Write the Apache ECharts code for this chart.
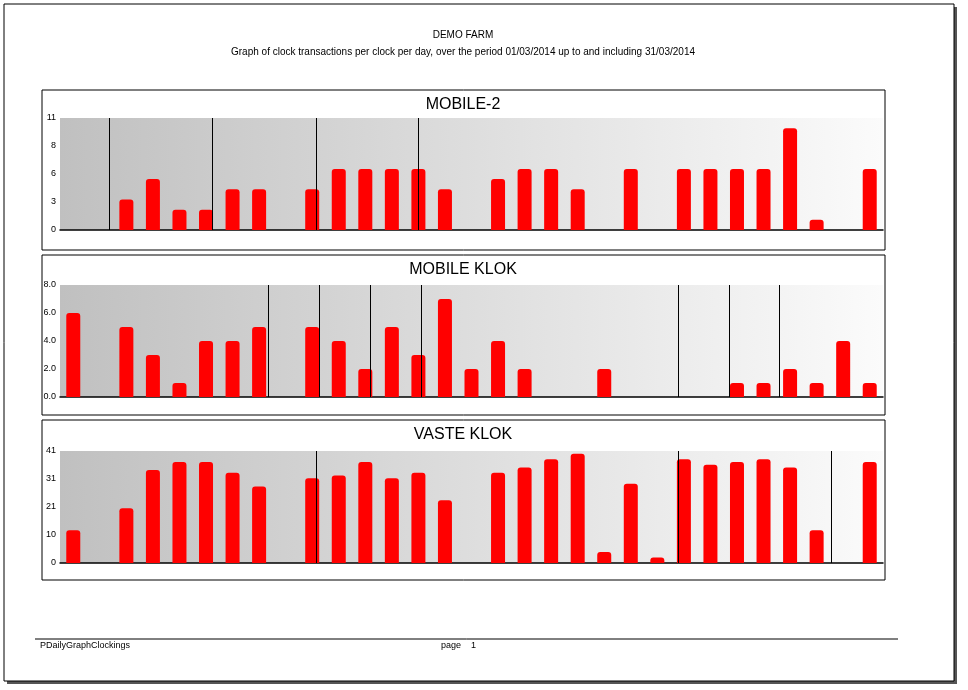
<!DOCTYPE html>
<html>
<head>
<meta charset="UTF-8">
<title>DEMO FARM</title>
<script src="https://cdn.jsdelivr.net/npm/echarts@6/dist/echarts.min.js"></script>
<style>body{margin:0;background:#fff}#main{width:968px;height:690px}</style>
</head>
<body>
<div id="main"></div>
<script type="text/javascript">
var days = [];
for (var i = 1; i <= 31; i++) days.push(i);

var mobile2 = [0,0,3,5,2,2,4,4,0,4,6,6,6,6,4,0,5,6,6,4,0,6,0,6,6,6,6,10,1,0,6];
var mobileKlok = [6,0,5,3,1,4,4,5,0,5,4,2,5,3,7,2,4,2,0,0,2,0,0,0,0,1,1,2,1,4,1];
var vasteKlok = [12,0,20,34,37,37,33,28,0,31,32,37,31,33,23,0,33,35,38,40,4,29,2,38,36,37,38,35,12,0,37];

var titles = ['MOBILE-2', 'MOBILE KLOK', 'VASTE KLOK'];
var yMax = [11, 8, 41];
var yStep = [2.75, 2, 10.25];
var markers = [[2.35, 6.24, 10.16, 14.0], [8.35, 10.27, 12.2, 14.1, 23.8, 25.7, 27.6], [10.16, 23.8, 29.55]];
var seriesData = [mobile2, mobileKlok, vasteKlok];

var gridTops = [118, 285, 451];
var boxTops = [90, 255, 420];

var chart = echarts.init(document.getElementById('main'));
var grids = [], xAxes = [], yAxes = [], series = [], graphics = [];

var bg = new echarts.graphic.LinearGradient(0, 0, 1, 0, [
  {offset: 0, color: '#c0c0c0'}, {offset: 1, color: '#fbfbfb'}]);

for (var k = 0; k < 3; k++) {
  grids.push({left: 60, right: 85, top: gridTops[k], height: 112, show: true,
    backgroundColor: bg, borderWidth: 0});
  xAxes.push({type: 'value', gridIndex: k, min: 0.5, max: 31.5, interval: 1,
    axisLine: {lineStyle: {color: '#000', width: 1.5}}, axisTick: {show: false}, splitLine: {show: false},
    axisLabel: {fontSize: 9, color: '#000', fontFamily: 'Arial',
      formatter: function (v) { return v % 1 === 0 ? v : ''; }, showMinLabel: false, showMaxLabel: false}});
  yAxes.push({type: 'value', gridIndex: k, min: 0, max: yMax[k], interval: yStep[k],
    axisLine: {show: false}, axisTick: {show: false}, splitLine: {show: false},
    axisLabel: {fontSize: 9, color: '#000', margin: 4, fontFamily: 'Arial',
      formatter: k === 1 ? function (v) { return v.toFixed(1); } : function (v) { return Math.round(v); }}});
  series.push({type: 'bar', xAxisIndex: k, yAxisIndex: k, barWidth: 14,
    itemStyle: {color: '#ff0000', borderRadius: [3, 3, 0, 0]},
    data: seriesData[k].map(function (v, i) { return [days[i], v]; }),
    markLine: {silent: true, symbol: 'none', label: {show: false},
      lineStyle: {color: '#000', width: 1, type: 'solid'},
      data: markers[k].map(function (m) { return {xAxis: m}; })}});
  graphics.push({type: 'rect', shape: {x: 42, y: boxTops[k], width: 843, height: 160},
    style: {fill: 'none', stroke: '#000', lineWidth: 1}, z: -1});
  graphics.push({type: 'text', x: 463, y: boxTops[k] + 15, style: {text: titles[k],
    font: '16px Arial', fill: '#000', align: 'center', verticalAlign: 'middle'}});
}

graphics.push({type: 'rect', shape: {x: 7, y: 7, width: 950, height: 677}, style: {fill: '#555'}, z: -10});
graphics.push({type: 'rect', shape: {x: 4, y: 4, width: 950, height: 677}, style: {fill: '#fff', stroke: '#000', lineWidth: 1}, z: -9});
graphics.push({type: 'text', x: 463, y: 35, style: {text: 'DEMO FARM', font: '10px Arial', fill: '#000', align: 'center', verticalAlign: 'middle'}});
graphics.push({type: 'text', x: 463, y: 52, style: {text: 'Graph of clock transactions per clock per day, over the period 01/03/2014 up to and including 31/03/2014', font: '10px Arial', fill: '#000', align: 'center', verticalAlign: 'middle'}});
graphics.push({type: 'line', shape: {x1: 35, y1: 639, x2: 898, y2: 639}, style: {stroke: '#000', lineWidth: 1}});
graphics.push({type: 'text', x: 40, y: 646, style: {text: 'PDailyGraphClockings', font: '9px Arial', fill: '#000', verticalAlign: 'middle'}});
graphics.push({type: 'text', x: 441, y: 646, style: {text: 'page    1', font: '9px Arial', fill: '#000', verticalAlign: 'middle'}});

chart.setOption({
  animation: false,
  grid: grids, xAxis: xAxes, yAxis: yAxes, series: series,
  graphic: graphics
});
</script>
</body>
</html>
